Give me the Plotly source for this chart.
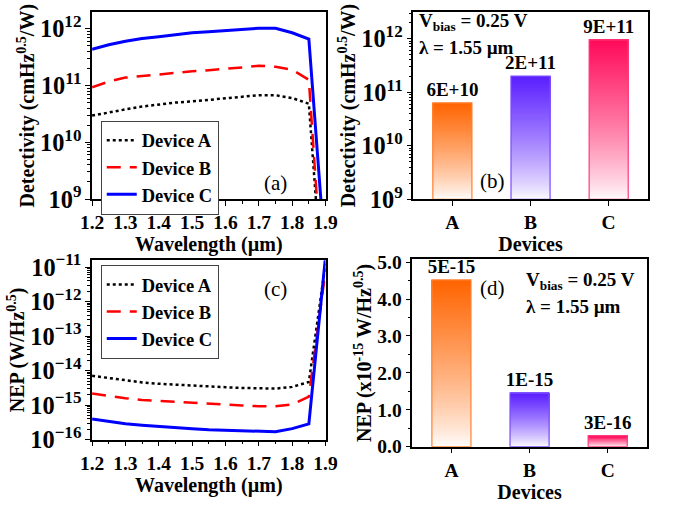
import plotly.graph_objects as go
import numpy as np

# ---------------- data ----------------
wavelength = [1.20, 1.25, 1.30, 1.35, 1.40, 1.45, 1.50, 1.55, 1.60, 1.65, 1.70, 1.75, 1.80, 1.85, 1.90]
# Detectivity (log10 values)
det_A_log = [10.47, 10.53, 10.58, 10.63, 10.67, 10.70, 10.72, 10.75, 10.77, 10.80, 10.83, 10.83, 10.78, 10.68, 6.70]
det_B_log = [10.97, 11.07, 11.14, 11.17, 11.19, 11.22, 11.25, 11.27, 11.29, 11.32, 11.35, 11.33, 11.28, 11.10, 6.75]
det_C_log = [11.64, 11.72, 11.78, 11.83, 11.86, 11.90, 11.93, 11.95, 11.97, 11.99, 12.01, 12.01, 11.93, 11.82, 7.90]
# NEP (log10 values)
nep_A_log = [-14.15, -14.22, -14.29, -14.34, -14.38, -14.41, -14.43, -14.46, -14.48, -14.50, -14.52, -14.52, -14.47, -14.33, -10.9]
nep_B_log = [-14.66, -14.74, -14.80, -14.85, -14.88, -14.91, -14.94, -14.97, -14.99, -15.01, -15.03, -15.03, -14.98, -14.75, -11.1]
nep_C_log = [-15.40, -15.48, -15.54, -15.58, -15.62, -15.65, -15.68, -15.71, -15.73, -15.75, -15.77, -15.77, -15.68, -15.54, -10.7]

series_names = ["Device A", "Device B", "Device C"]
devices = ["A", "B", "C"]
det_155 = [6.3e10, 2.0e11, 9.5e11]
det_labels = ["6E+10", "2E+11", "9E+11"]
nep_155 = [4.52, 1.45, 0.30]  # x1e-15 W/Hz^0.5
nep_labels = ["5E-15", "1E-15", "3E-16"]

# ---------------- style ----------------
FONT = "Liberation Serif"
bar_rgb = [(255, 100, 0), (90, 30, 255), (255, 10, 90)]
line_styles = [dict(color="black", width=2.5, dash="dot"),
               dict(color="#FF0000", width=2.5, dash="14px,9px"),
               dict(color="#0000FF", width=3, dash="solid")]

fig = go.Figure()

det_sets = [det_A_log, det_B_log, det_C_log]
nep_sets = [nep_A_log, nep_B_log, nep_C_log]
for i in range(3):
    fig.add_trace(go.Scatter(x=wavelength, y=[10 ** v for v in det_sets[i]], mode="lines",
                             line=line_styles[i], name=series_names[i], xaxis="x", yaxis="y",
                             legend="legend"))
for i in range(3):
    fig.add_trace(go.Scatter(x=wavelength, y=[10 ** v for v in nep_sets[i]], mode="lines",
                             line=line_styles[i], name=series_names[i], xaxis="x3", yaxis="y3",
                             legend="legend2"))


def mix(rgb, t):
    r = int(round(255 + (rgb[0] - 255) * t))
    g = int(round(255 + (rgb[1] - 255) * t))
    b = int(round(255 + (rgb[2] - 255) * t))
    return f"rgb({r},{g},{b})"


N = 60
label_font = dict(family=FONT, size=19, color="black", weight="bold")
# gradient bars panel (b) (log axis)
lo = 9.0
for k in range(N):
    t = (k + 0.5) / N
    bases = [10 ** (lo + (np.log10(v) - lo) * k / N) for v in det_155]
    lens = [v - b for v, b in zip(det_155, bases)]
    cols = [mix(c, t ** 0.8) for c in bar_rgb]
    fig.add_trace(go.Bar(x=devices, y=lens, base=bases, width=0.5, xaxis="x2", yaxis="y2",
                         marker=dict(color=cols, line=dict(width=0)), showlegend=False,
                         hoverinfo="skip"))
fig.add_trace(go.Bar(x=devices, y=[v - 10 ** lo for v in det_155], base=[10 ** lo] * 3, width=0.5,
                     xaxis="x2", yaxis="y2",
                     marker=dict(color="rgba(0,0,0,0)",
                                 line=dict(color=[mix(c, 0.8) for c in bar_rgb], width=1.2)),
                     text=det_labels, textposition="outside", cliponaxis=False,
                     constraintext="none", textfont=label_font,
                     showlegend=False, hoverinfo="skip"))

# gradient bars panel (d) (linear axis)
for k in range(N):
    t = (k + 0.5) / N
    bases = [v * k / N for v in nep_155]
    lens = [v - b for v, b in zip(nep_155, bases)]
    cols = [mix(c, t ** 0.8) for c in bar_rgb]
    fig.add_trace(go.Bar(x=devices, y=lens, base=bases, width=0.5, xaxis="x4", yaxis="y4",
                         marker=dict(color=cols, line=dict(width=0)), showlegend=False,
                         hoverinfo="skip"))
fig.add_trace(go.Bar(x=devices, y=nep_155, base=[0] * 3, width=0.5, xaxis="x4", yaxis="y4",
                     marker=dict(color="rgba(0,0,0,0)",
                                 line=dict(color=[mix(c, 0.8) for c in bar_rgb], width=1.2)),
                     text=nep_labels, textposition="outside", cliponaxis=False,
                     constraintext="none", textfont=label_font,
                     showlegend=False, hoverinfo="skip"))

W, H = 680, 511


def px(x0, x1):
    return [x0 / W, x1 / W]


def py(y_top, y_bot):
    return [1 - y_bot / H, 1 - y_top / H]


tickfont = dict(family=FONT, size=19.5, color="black", weight="bold")
titlefont = dict(family=FONT, size=20, color="black", weight="bold")
axcommon = dict(showline=True, linecolor="black", linewidth=1.5, mirror=True, ticks="outside",
                ticklen=5, tickwidth=1.3, tickcolor="black", showgrid=False, zeroline=False,
                tickfont=tickfont)
minor_log = dict(ticks="outside", ticklen=3, tickcolor="black")

fig.update_layout(
    width=W, height=H, margin=dict(l=0, r=0, t=0, b=0),
    paper_bgcolor="white", plot_bgcolor="white", barmode="overlay",
    font=dict(family=FONT, color="black"),
    xaxis=dict(domain=px(83, 325), anchor="y", range=[1.2, 1.9], dtick=0.1, tickformat=".1f",
               minor=dict(dtick=0.05, ticks="outside", ticklen=3, tickcolor="black"),
               title=dict(text="Wavelength (µm)", font=titlefont, standoff=2), **axcommon),
    yaxis=dict(domain=py(3.5, 199), anchor="x", type="log", range=[9, 12.29], dtick=1,
               exponentformat="power", showexponent="all", minor=minor_log,
               title=dict(text="Detectivity (cmHz<sup>0.5</sup>/W)", font=titlefont, standoff=0),
               **axcommon),
    xaxis2=dict(domain=px(416, 659), anchor="y2", range=[-0.5, 2.5], type="category",
                title=dict(text="Devices", font=titlefont, standoff=2), **axcommon),
    yaxis2=dict(domain=py(3, 199.3), anchor="x2", type="log", range=[9, 12.5], dtick=1,
                exponentformat="power", showexponent="all", minor=minor_log,
                title=dict(text="Detectivity (cmHz<sup>0.5</sup>/W)", font=titlefont, standoff=0),
                **axcommon),
    xaxis3=dict(domain=px(83, 325), anchor="y3", range=[1.2, 1.9], dtick=0.1, tickformat=".1f",
                minor=dict(dtick=0.05, ticks="outside", ticklen=3, tickcolor="black"),
                title=dict(text="Wavelength (µm)", font=titlefont, standoff=0), **axcommon),
    yaxis3=dict(domain=py(263, 451), anchor="x3", type="log", range=[-16, -10.8], dtick=1,
                exponentformat="power", showexponent="all", minor=minor_log,
                title=dict(text="NEP (W/Hz<sup>0.5</sup>)", font=titlefont, standoff=0),
                **axcommon),
    xaxis4=dict(domain=px(415, 658), anchor="y4", range=[-0.5, 2.5], type="category",
                title=dict(text="Devices", font=titlefont, standoff=4), **axcommon),
    yaxis4=dict(domain=py(262, 458.3), anchor="x4", range=[0, 5.08], dtick=1, tickformat=".1f",
                minor=dict(dtick=0.5, ticks="outside", ticklen=3, tickcolor="black"),
                title=dict(text="NEP (x10<sup>-15</sup> W/Hz<sup>0.5</sup>)", font=titlefont, standoff=0),
                **axcommon),
    legend=dict(x=92 / W, y=1 - 117 / H, xanchor="left", yanchor="top", bgcolor="white",
                bordercolor="#444", borderwidth=1, tracegroupgap=0,
                font=dict(family=FONT, size=18.5, color="black", weight="bold")),
    legend2=dict(x=92 / W, y=1 - 268 / H, xanchor="left", yanchor="top", bgcolor="white",
                 bordercolor="#444", borderwidth=1, tracegroupgap=0,
                 font=dict(family=FONT, size=18.5, color="black", weight="bold")),
)

ann_font = dict(family=FONT, size=21, color="black")
bold_font = dict(family=FONT, size=19, color="black", weight="bold")
for txt, x, y in [("(a)", 273, 182), ("(b)", 498, 180), ("(c)", 273, 293), ("(d)", 498, 292)]:
    fig.add_annotation(text=txt, x=x / W, y=1 - y / H, xref="paper", yref="paper",
                       showarrow=False, font=ann_font, xanchor="center", yanchor="middle")
for x, y1, y2 in [(420, 14, 40), (531, 285, 311)]:
    fig.add_annotation(text="V<sub>bias</sub> = 0.25 V", x=x / W, y=1 - y1 / H, xref="paper",
                       yref="paper", showarrow=False, font=bold_font, xanchor="left", yanchor="middle")
    fig.add_annotation(text="λ = 1.55 µm", x=x / W, y=1 - y2 / H, xref="paper",
                       yref="paper", showarrow=False, font=bold_font, xanchor="left", yanchor="middle")

fig.write_html("out.html")
